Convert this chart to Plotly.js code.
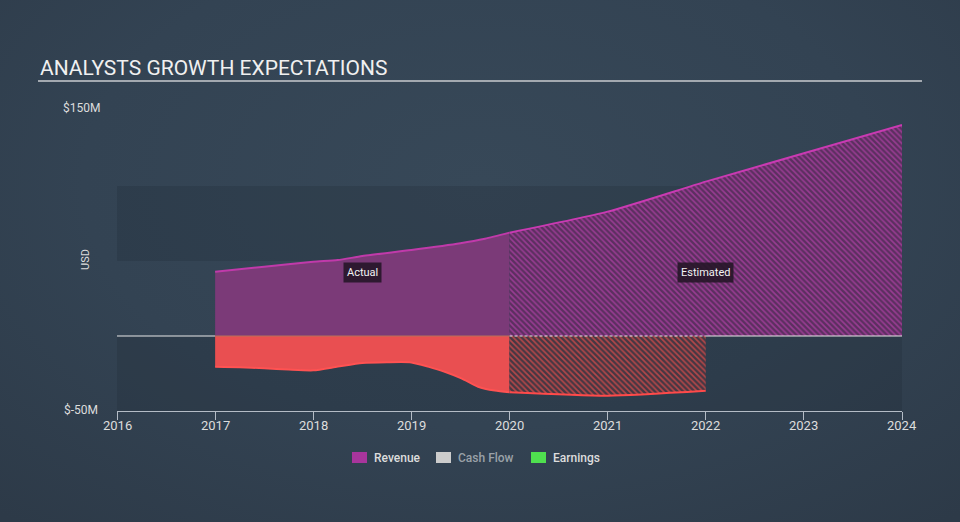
<!DOCTYPE html>
<html>
<head>
<meta charset="utf-8">
<script src="https://cdn.plot.ly/plotly-3.0.1.min.js"></script>
<style>
  html, body { margin: 0; padding: 0; }
  body {
    width: 960px; height: 522px; overflow: hidden;
    background: radial-gradient(ellipse 75% 85% at 50% 35%, #374858 0%, #334353 55%, #2d3a48 100%);
  }
  #chart { width: 960px; height: 522px; }
</style>
</head>
<body>
<div id="chart"></div>
<script>
// ---- Data (USD millions) ----
const revenueActualYears = [2017, 2017.5, 2018, 2018.25, 2018.5, 2019, 2019.5, 2019.75, 2020];
const revenueActual      = [42.9, 46.2, 49.5, 50.6, 53.3, 57.3, 61.8, 64.8, 68.9];
const revenueEstYears    = [2020, 2021, 2022, 2023, 2024];
const revenueEst         = [68.9, 82.9, 102.9, 121.8, 140.7];

const cashActualYears = [2017, 2017.25, 2017.5, 2017.75, 2018, 2018.25, 2018.5, 2018.75, 2019, 2019.17, 2019.34, 2019.51, 2019.68, 2019.85, 2020];
const cashActual      = [-20.5, -20.8, -21.5, -22.4, -22.9, -20.4, -18.0, -17.5, -17.6, -20.4, -23.8, -28.2, -33.8, -36.4, -37.5];
const cashEstYears    = [2020, 2021, 2022];
const cashEst         = [-37.5, -39.8, -36.5];

const xTicks = [2016, 2017, 2018, 2019, 2020, 2021, 2022, 2023, 2024];
const yLabels = ["$150M", "$-50M"];
const legendNames = ["Revenue", "Cash Flow", "Earnings"];

// ---- Layout helpers (pixel -> paper) ----
const L = 117, R = 58, T = 111, B = 111, W = 960, H = 522;
const pw = W - L - R, ph = H - T - B;
const px = x => (x - L) / pw;
const py = y => (H - B - y) / ph;

const FONT = "Roboto, 'Open Sans', sans-serif";

const traces = [
  {
    x: revenueActualYears, y: revenueActual, type: "scatter", mode: "lines",
    line: { color: "#c03aaa", width: 2, shape: "spline", smoothing: 0.6 },
    fill: "tozeroy", fillcolor: "#7b3a78", hoverinfo: "skip", showlegend: false
  },
  {
    x: revenueEstYears, y: revenueEst, type: "scatter", mode: "lines",
    line: { color: "#c93ab2", width: 2, shape: "spline", smoothing: 0.6 },
    fill: "tozeroy", fillcolor: "#5c2f60",
    fillpattern: { shape: "\\", fgcolor: "#983c92", bgcolor: "#5c2f60", size: 4, solidity: 0.4 },
    hoverinfo: "skip", showlegend: false
  },
  {
    x: cashActualYears, y: cashActual, type: "scatter", mode: "lines",
    line: { color: "#ff5252", width: 2, shape: "spline", smoothing: 0.6 },
    fill: "tozeroy", fillcolor: "#e94f51", hoverinfo: "skip", showlegend: false
  },
  {
    x: cashEstYears, y: cashEst, type: "scatter", mode: "lines",
    line: { color: "#ff4a4a", width: 2, shape: "spline", smoothing: 0.6 },
    fill: "tozeroy", fillcolor: "#483844",
    fillpattern: { shape: "\\", fgcolor: "#b44749", bgcolor: "#463743", size: 4, solidity: 0.4 },
    hoverinfo: "skip", showlegend: false
  }
];

const legendColors = ["#a8359c", "#cccccc", "#4fe04f"];
const legendTextColors = ["#dddddd", "#9aa1a8", "#dddddd"];
const legendX = [352, 436, 531];

const shapes = [
  // horizontal bands
  { type: "rect", xref: "x", yref: "y", x0: 2016, x1: 2024, y0: 50, y1: 100,
    fillcolor: "rgba(25,35,47,0.2)", line: { width: 0 }, layer: "below" },
  { type: "rect", xref: "x", yref: "y", x0: 2016, x1: 2024, y0: -50, y1: 0,
    fillcolor: "rgba(25,35,47,0.2)", line: { width: 0 }, layer: "below" },
  // zero line
  { type: "line", xref: "x", yref: "y", x0: 2016, x1: 2017, y0: 0, y1: 0,
    line: { color: "#e8e8e8", width: 1.2 } },
  { type: "line", xref: "x", yref: "y", x0: 2022, x1: 2024, y0: 0, y1: 0,
    line: { color: "#e8e8e8", width: 1.2 } },
  { type: "line", xref: "x", yref: "y", x0: 2020, x1: 2022, y0: 0, y1: 0,
    line: { color: "#e8e8e8", width: 1, dash: "3px,2px" } },
  { type: "line", xref: "x", yref: "y", x0: 2017, x1: 2020, y0: 0, y1: 0,
    line: { color: "#b8705a", width: 1 } },
  // title underline
  { type: "line", xref: "paper", yref: "paper", x0: px(38), x1: px(922), y0: py(81), y1: py(81),
    line: { color: "#a3a9b0", width: 2 } }
];

legendX.forEach((lx, i) => {
  shapes.push({ type: "rect", xref: "paper", yref: "paper",
    x0: px(lx), x1: px(lx + 15), y0: py(452), y1: py(463),
    fillcolor: legendColors[i], line: { width: 0 } });
});

const annotations = [
  { xref: "paper", yref: "paper", x: px(38), y: py(68), xanchor: "left", yanchor: "middle",
    text: "ANALYSTS GROWTH EXPECTATIONS", showarrow: false,
    font: { family: FONT, size: 21, color: "#f0f0f0" } },
  { xref: "paper", yref: "paper", x: px(81), y: py(108), xanchor: "center", yanchor: "middle",
    text: yLabels[0], showarrow: false, font: { family: FONT, size: 12, color: "#dddddd" } },
  { xref: "paper", yref: "paper", x: px(81), y: py(410), xanchor: "center", yanchor: "middle",
    text: yLabels[1], showarrow: false, font: { family: FONT, size: 12, color: "#dddddd" } },
  { xref: "paper", yref: "paper", x: px(85), y: py(260), xanchor: "center", yanchor: "middle",
    text: "USD", textangle: -90, showarrow: false, font: { family: FONT, size: 11, color: "#dddddd" } },
  { xref: "x", yref: "y", x: 2018.5, y: 42.2, text: "Actual", showarrow: false,
    bgcolor: "rgba(38,22,40,0.9)", borderpad: 3, font: { family: FONT, size: 11, color: "#f2f2f2" } },
  { xref: "x", yref: "y", x: 2022, y: 42.6, text: "Estimated", showarrow: false,
    bgcolor: "rgba(38,22,40,0.9)", borderpad: 3, font: { family: FONT, size: 11, color: "#f2f2f2" } }
];

// x tick labels
xTicks.forEach(t => {
  annotations.push({ xref: "x", yref: "paper", x: t, y: py(425), xanchor: "center", yanchor: "middle",
    text: String(t), showarrow: false, font: { family: FONT, size: 13, color: "#dddddd" } });
});

legendX.forEach((lx, i) => {
  annotations.push({ xref: "paper", yref: "paper", x: px(lx + 20), y: py(458),
    xanchor: "left", yanchor: "middle", text: legendNames[i], showarrow: false,
    font: { family: FONT, size: 12, color: legendTextColors[i], weight: 500 } });
});

const layout = {
  width: W, height: H,
  margin: { l: L, r: R, t: T, b: B, pad: 0 },
  paper_bgcolor: "rgba(0,0,0,0)",
  plot_bgcolor: "rgba(0,0,0,0)",
  showlegend: false,
  xaxis: {
    range: [2016, 2024], tickvals: xTicks,
    showgrid: false, zeroline: false, showline: true, linecolor: "#b4bcc6", linewidth: 1,
    ticks: "outside", ticklen: 8, tickcolor: "#b4bcc6",
    showticklabels: false, fixedrange: true
  },
  yaxis: {
    range: [-50, 150], showgrid: false, zeroline: false, showline: false,
    showticklabels: false, ticks: "", fixedrange: true
  },
  shapes: shapes,
  annotations: annotations
};

Plotly.newPlot("chart", traces, layout, { displayModeBar: false, staticPlot: true });
</script>
</body>
</html>
